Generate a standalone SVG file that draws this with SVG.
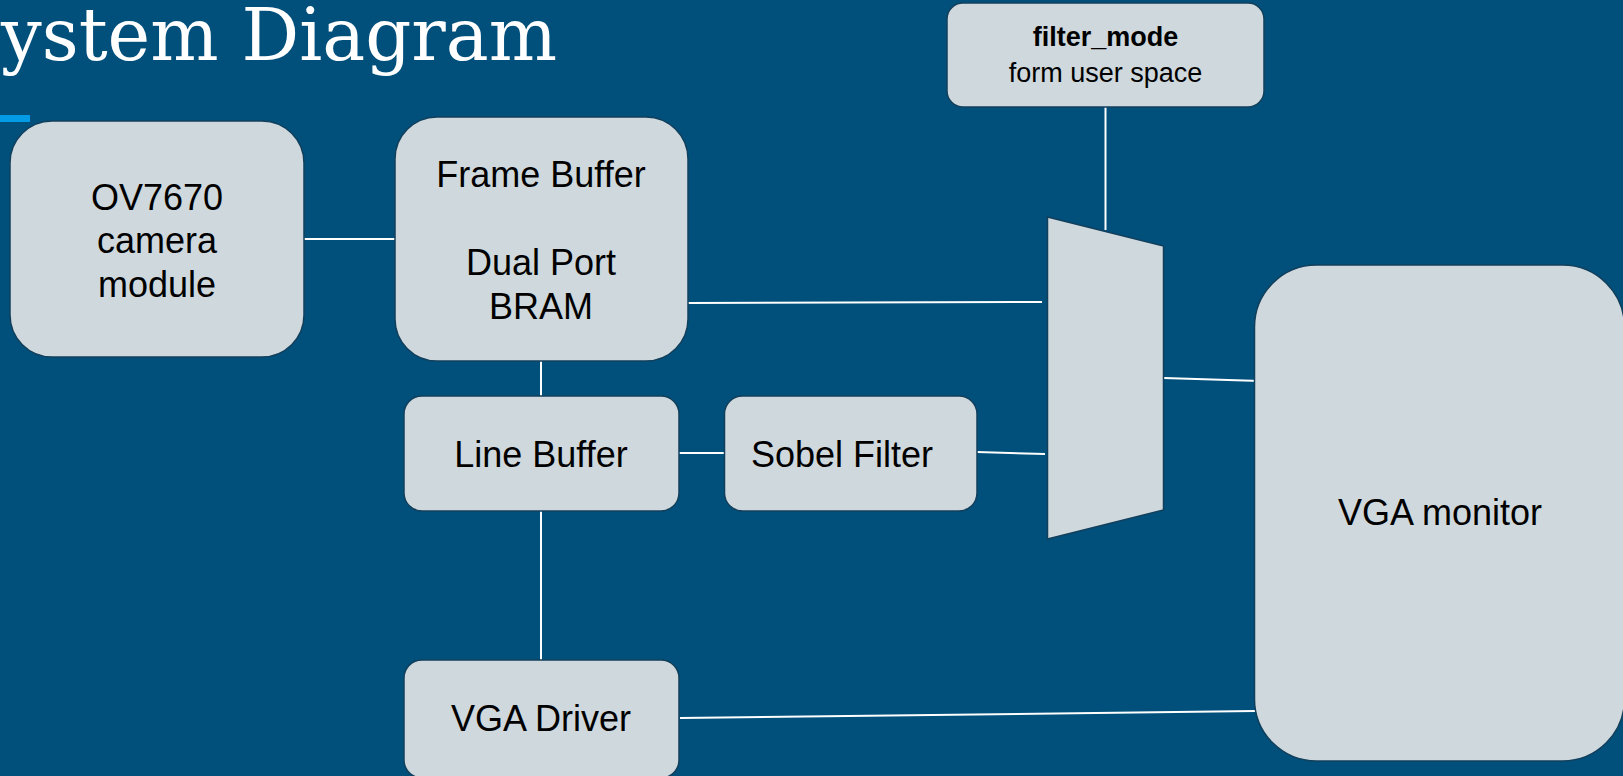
<svg xmlns="http://www.w3.org/2000/svg" width="1623" height="776" viewBox="0 0 1623 776">
<style>
.box{fill:#cfd8dc;stroke:#123f5c;stroke-width:1.5}
.lbl{font-family:"Liberation Sans",Arial,sans-serif;font-size:36px;fill:#000;text-anchor:middle}
.sm{font-family:"Liberation Sans",Arial,sans-serif;font-size:27px;fill:#000;text-anchor:middle}
.wire{stroke:#ffffff;stroke-width:2;fill:none}
</style>
<rect x="0" y="0" width="1623" height="776" fill="#01507b"/>
<g id="title">
<text x="1" y="60" font-family="'DejaVu Serif',serif" font-size="72" fill="#ffffff" textLength="556" lengthAdjust="spacingAndGlyphs">ystem Diagram</text>
<rect x="0" y="115" width="30" height="7" fill="#039be5"/>
</g>
<g id="connectors">
<line class="wire" x1="304" y1="239" x2="395" y2="239"/>
<line class="wire" x1="688" y1="303" x2="1042" y2="302"/>
<line class="wire" x1="541" y1="361" x2="541" y2="396"/>
<line class="wire" x1="679" y1="453" x2="724" y2="453"/>
<line class="wire" x1="977" y1="452" x2="1045" y2="454"/>
<line class="wire" x1="541" y1="511" x2="541" y2="660"/>
<line class="wire" x1="1105.5" y1="107" x2="1105.5" y2="230"/>
<line class="wire" x1="1164" y1="378" x2="1260" y2="381"/>
<line class="wire" x1="680" y1="718" x2="1255" y2="711"/>
</g>
<g id="camera">
<rect class="box" x="10" y="121" width="294" height="236" rx="42"/>
<text class="lbl" x="157" y="210">OV7670</text>
<text class="lbl" x="157" y="253">camera</text>
<text class="lbl" x="157" y="297">module</text>
</g>
<g id="framebuffer">
<rect class="box" x="395" y="117" width="293" height="244" rx="42"/>
<text class="lbl" x="541" y="187">Frame Buffer</text>
<text class="lbl" x="541" y="275">Dual Port</text>
<text class="lbl" x="541" y="319">BRAM</text>
</g>
<g id="filtermode">
<rect class="box" x="947" y="3" width="317" height="104" rx="16"/>
<text class="sm" x="1105.5" y="46" font-weight="bold">filter_mode</text>
<text class="sm" x="1105.5" y="82">form user space</text>
</g>
<g id="mux">
<polygon class="box" points="1047.5,217 1163.5,246 1163.5,510 1047.5,539"/>
</g>
<g id="vgamonitor">
<rect class="box" x="1254.5" y="265" width="370" height="496" rx="62"/>
<text class="lbl" x="1440" y="525">VGA monitor</text>
</g>
<g id="linebuffer">
<rect class="box" x="404" y="396" width="275" height="115" rx="18"/>
<text class="lbl" x="541" y="467">Line Buffer</text>
</g>
<g id="sobel">
<rect class="box" x="724.5" y="396" width="252.5" height="115" rx="18"/>
<text class="lbl" x="842" y="467">Sobel Filter</text>
</g>
<g id="vgadriver">
<rect class="box" x="404" y="660" width="275" height="118" rx="18"/>
<text class="lbl" x="541" y="731">VGA Driver</text>
</g>
</svg>
